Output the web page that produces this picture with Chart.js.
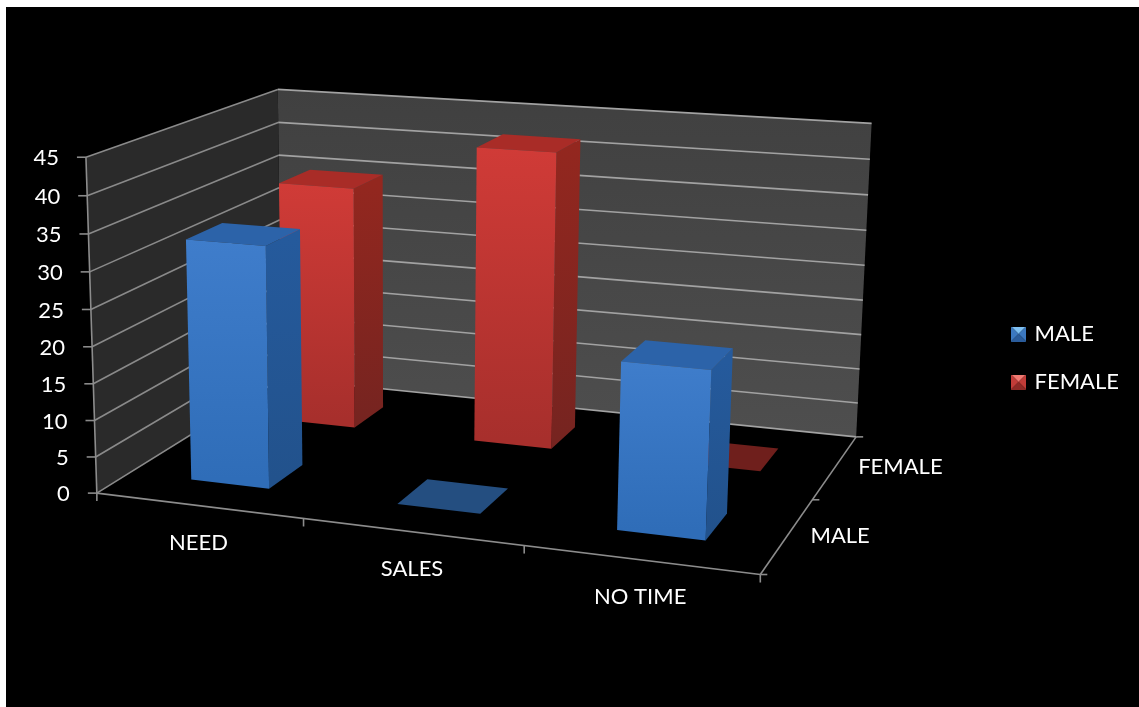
<!DOCTYPE html>
<html><head><meta charset="utf-8">
<style>html,body{margin:0;padding:0;background:#fff;overflow:hidden}canvas{display:block}#w{width:1139px;height:707px;position:relative}</style>
<script src="https://cdn.jsdelivr.net/npm/chart.js@4/dist/chart.umd.min.js"></script>
</head><body><div id="w"><canvas id="c" width="1139" height="707"></canvas></div>
<script>
const categories = ['NEED', 'SALES', 'NO TIME'];
const seriesNames = ['MALE', 'FEMALE'];
const maleValues = [33, 0, 22];
const femaleValues = [35, 42, 0];
const yTicksMax = 45, yStep = 5;

/* camera anchors of the 3-D box: (along category axis, along depth axis, up the value axis) -> page pixel */
const anchors = [
  [0,0,0, 99,492],[1,0,0, 760,576],[1,1,0, 857,435],[0,1,0, 279,380],
  [0,0,1, 84,157],[0,1,1, 280,89],[1,1,1, 871,124]
];
function solve(A,b){const n=b.length;const M=A.map((r,i)=>[...r,b[i]]);
  for(let c=0;c<n;c++){let p=c;for(let r=c+1;r<n;r++)if(Math.abs(M[r][c])>Math.abs(M[p][c]))p=r;[M[c],M[p]]=[M[p],M[c]];
    for(let r=0;r<n;r++){if(r===c)continue;const f=M[r][c]/M[c][c];for(let k=c;k<=n;k++)M[r][k]-=f*M[c][k];}}
  return M.map((r,i)=>r[n]/r[i]);}
function camera(){const rows=[],rhs=[];
  anchors.forEach(([u,w,v,x,y])=>{x/=1000;y/=1000;
    rows.push([u,w,v,1,0,0,0,0,-x*u,-x*w,-x*v]);rhs.push(x);
    rows.push([0,0,0,0,u,w,v,1,-y*u,-y*w,-y*v]);rhs.push(y);});
  const N=Array.from({length:11},()=>Array(11).fill(0)),B=Array(11).fill(0);
  rows.forEach((r,i)=>{for(let a=0;a<11;a++){B[a]+=r[a]*rhs[i];for(let b=0;b<11;b++)N[a][b]+=r[a]*r[b];}});
  return solve(N,B);}
const P=camera();
function pr(u,w,v){const d=P[8]*u+P[9]*w+P[10]*v+1;
  return [1000*(P[0]*u+P[1]*w+P[2]*v+P[3])/d,1000*(P[4]*u+P[5]*w+P[6]*v+P[7])/d];}

const palette=[
 {front:['#3f7dcb','#2f6db8'],side:['#255a9c','#22528c'],top:'#2c63a9',flat:'#244e80'},
 {front:['#d03b37','#a72f2c'],side:['#93271f','#762420'],top:'#a92c27',flat:'#6f1f1c'}];

function poly(ctx,pts,fill){ctx.beginPath();pts.forEach((p,i)=>i?ctx.lineTo(p[0],p[1]):ctx.moveTo(p[0],p[1]));ctx.closePath();ctx.fillStyle=fill;ctx.fill();}
function line(ctx,a,b,col,lw){ctx.beginPath();ctx.moveTo(a[0],a[1]);ctx.lineTo(b[0],b[1]);ctx.strokeStyle=col;ctx.lineWidth=lw;ctx.stroke();}
const FONT='"Lato"';

const box3d={id:'box3d',
 beforeDraw(chart){const c=chart.ctx;c.save();c.fillStyle='#000';c.fillRect(6,7,1133,700);c.restore();},
 beforeDatasetsDraw(chart){
  const c=chart.ctx,ca=chart.chartArea,xs=chart.scales.x,ys=chart.scales.y;
  const V=val=>(ca.bottom-ys.getPixelForValue(val))/ca.height;
  c.save();
  /* walls */
  const g=c.createLinearGradient(0,89,0,435);g.addColorStop(0,'#404040');g.addColorStop(1,'#4e4e4e');
  poly(c,[pr(0,1,0),pr(1,1,0),pr(1,1,1),pr(0,1,1)],g);
  poly(c,[pr(0,0,0),pr(0,1,0),pr(0,1,1),pr(0,0,1)],'#2a2a2a');
  /* gridlines */
  ys.ticks.forEach(t=>{const v=V(t.value);
    line(c,pr(0,0,v),pr(0,1,v),'#8a8a8a',1.6);
    line(c,pr(0,1,v),pr(1,1,v),'#a2a2a2',1.6);
    const a=pr(0,0,v);line(c,a,[a[0]-9,a[1]],'#8a8a8a',1.6);});
  /* axes */
  const ax='#8c8c8c';
  line(c,pr(0,0,0),pr(0,0,1),ax,1.6);
  line(c,pr(0,0,0),pr(1,0,0),ax,1.6);
  line(c,pr(1,0,0),pr(1,1,0),ax,1.6);
  const n=categories.length,m=seriesNames.length;
  for(let i=0;i<=n;i++){const a=pr(i/n,0,0);line(c,a,[a[0],a[1]+8],ax,1.6);}
  for(let j=0;j<=m;j++){const a=pr(1,j/m,0);line(c,a,[a[0]+7,a[1]],ax,1.6);}
  /* bars: back series first */
  const depthFront=0.32,depthBack=0.69;
  for(let d=m-1;d>=0;d--){
    const meta=chart.getDatasetMeta(d);
    meta.data.forEach(el=>{
      const u0=(el.x-el.width/2-ca.left)/ca.width,u1=(el.x+el.width/2-ca.left)/ca.width;
      const h=(ca.bottom-el.y)/ca.height,w0=(d+depthFront)/m,w1=(d+depthBack)/m,col=palette[d];
      const top=[pr(u0,w0,h),pr(u1,w0,h),pr(u1,w1,h),pr(u0,w1,h)];
      if(h<=0){poly(c,top,col.flat);return;}
      const b0=pr(u0,w0,0),b1=pr(u1,w0,0),b2=pr(u1,w1,0);
      let gr=c.createLinearGradient(0,top[0][1],0,b0[1]);gr.addColorStop(0,col.side[0]);gr.addColorStop(1,col.side[1]);
      poly(c,[b1,b2,top[2],top[1]],gr);
      poly(c,top,col.top);
      gr=c.createLinearGradient(0,top[0][1],0,b0[1]);gr.addColorStop(0,col.front[0]);gr.addColorStop(1,col.front[1]);
      poly(c,[b0,b1,top[1],top[0]],gr);
    });
  }
  /* text */
  c.fillStyle='#fff';c.font='22px '+FONT;c.textBaseline='middle';
  c.textAlign='right';
  ys.ticks.forEach(t=>{const a=pr(0,0,V(t.value));c.fillText(String(t.value),a[0]-27,a[1]+1);});
  c.textAlign='center';
  xs.getLabels().forEach((l,i)=>{const a=pr((i+.5)/n,0,0);c.fillText(l,a[0],a[1]+37);});
  c.textAlign='left';
  seriesNames.forEach((l,j)=>{const a=pr(1,(j+.5)/m,0);c.fillText(l,a[0]+23,a[1]);});
  c.restore();
 },
 beforeDatasetDraw(){return false;}
};

function swatch(cols){const s=document.createElement('canvas');s.width=15;s.height=15;const c=s.getContext('2d');
  const C=[7.5,7.5];
  poly(c,[[0,0],[15,0],C],cols[0]);poly(c,[[15,0],[15,15],C],cols[1]);poly(c,[[15,15],[0,15],C],cols[2]);poly(c,[[0,15],[0,0],C],cols[1]);
  return s;}
const swatches=[swatch(['#7fc0f2','#3b78c0','#2a5c9c']),swatch(['#f07a72','#c23c38','#8f2a26'])];

new Chart(document.getElementById('c'),{
 type:'bar',
 data:{labels:categories,datasets:[
   {label:seriesNames[0],data:maleValues,backgroundColor:'#3f7dcb',grouped:false},
   {label:seriesNames[1],data:femaleValues,backgroundColor:'#d03b37',grouped:false}]},
 plugins:[box3d],
 options:{responsive:false,animation:false,
  layout:{padding:{right:10,top:19,bottom:10,left:10}},
  datasets:{bar:{categoryPercentage:1,barPercentage:0.385}},
  scales:{
   x:{grid:{display:false},border:{display:false},ticks:{display:false}},
   y:{min:0,max:yTicksMax,grid:{display:false},border:{display:false},ticks:{display:false,stepSize:yStep}}},
  plugins:{tooltip:{enabled:false},title:{display:false},
   legend:{position:'right',labels:{usePointStyle:true,boxWidth:10,boxHeight:15,padding:26,color:'#fff',font:{family:FONT,size:22},
     generateLabels(ch){return ch.data.datasets.map((d,i)=>({text:d.label,fontColor:'#fff',fillStyle:d.backgroundColor,strokeStyle:d.backgroundColor,lineWidth:0,pointStyle:swatches[i],datasetIndex:i,hidden:false}));}}}}
 }
});
</script></body></html>
